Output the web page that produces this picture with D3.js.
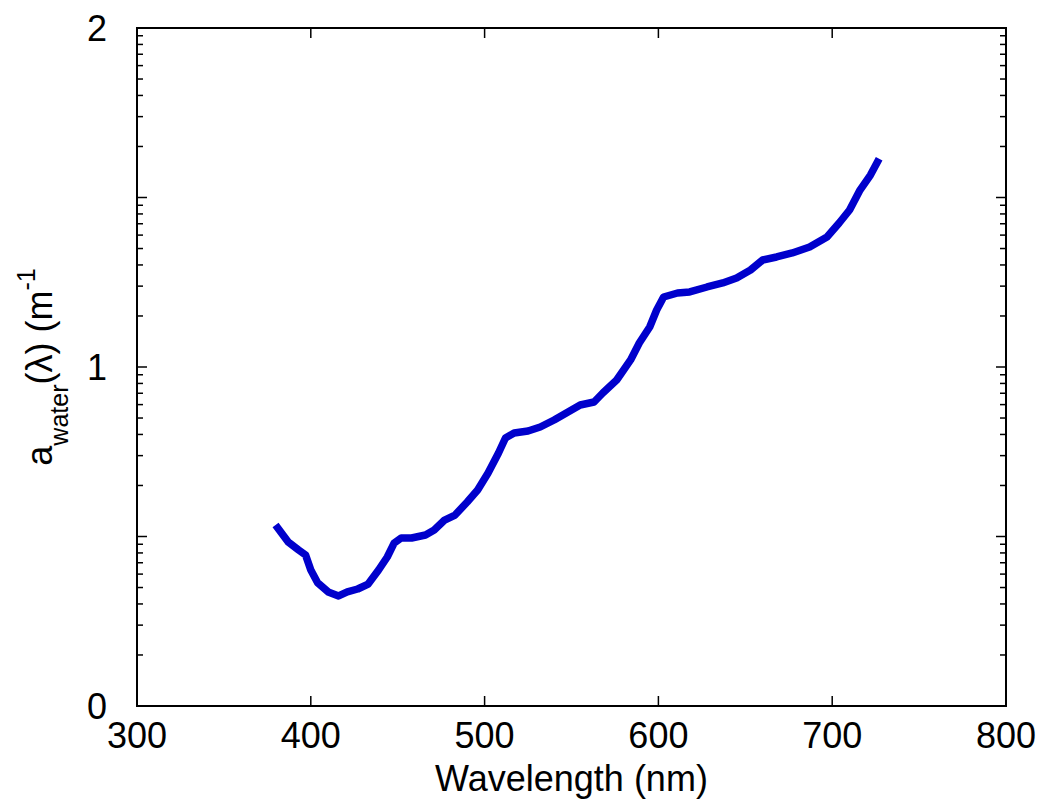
<!DOCTYPE html>
<html>
<head>
<meta charset="utf-8">
<script src="https://cdn.jsdelivr.net/npm/d3@7"></script>
<style>
  body { margin: 0; background: #fff; }
  text { font-family: "Liberation Sans", Arial, sans-serif; fill: #000; }
</style>
</head>
<body>
<div id="svgDiv"></div>
<script>
var w = 1046;
var h = 804;

// absorption of pure water
var wavelength = [381, 387, 393, 397, 400, 404, 410, 416, 421, 427, 433, 439, 444, 448, 452,
  458, 466, 471, 477, 483, 490, 496, 502, 508, 512, 517, 525, 532, 540, 548, 555, 563,
  568, 576, 584, 589, 595, 599, 603, 611, 618, 628, 637, 645, 653, 660, 668, 677, 687,
  697, 704, 710, 716, 722, 726];
var absorption = [0.01122, 0.00928, 0.00833, 0.00778, 0.00634, 0.00532, 0.00471, 0.00446,
  0.00471, 0.00490, 0.00524, 0.00634, 0.00757, 0.00916, 0.00980, 0.00980, 0.01020, 0.01092,
  0.01251, 0.01339, 0.01598, 0.01880, 0.02370, 0.03109, 0.03813, 0.04080, 0.04193, 0.04426,
  0.04868, 0.05427, 0.05967, 0.06215, 0.07025, 0.08381, 0.1100, 0.1385, 0.1722, 0.2169,
  0.2588, 0.2733, 0.2771, 0.2965, 0.3131, 0.3350, 0.3735, 0.4279, 0.4457, 0.4707, 0.5105,
  0.5848, 0.7072, 0.8439, 1.107, 1.357, 1.620];

var xTicks = [300, 400, 500, 600, 700, 800];
var yTickValues = [0.001, 0.1, 10];
var yTickLabels = ["0", "1", "2"];

var margin = {left: 137, right: 40, top: 28, bottom: 98};

var svg = d3.select("#svgDiv")
	.append("svg")
	.attr("width", w)
	.attr("height", h);

var x = d3.scaleLinear()
	.domain([300, 800])
	.range([margin.left, w - margin.right]);

var y = d3.scaleLog()
	.domain([0.001, 10])
	.range([h - margin.bottom, margin.top]);

// log ticks: decades long, 2..9 short
var majorY = [], minorY = [];
for (var e = -3; e < 1; e++) {
	majorY.push(Math.pow(10, e));
	for (var m = 2; m <= 9; m++) minorY.push(m * Math.pow(10, e));
}
majorY.push(10);

var g = svg.append("g");

// curve
var data = wavelength.map(function (d, i) { return {wl: d, a: absorption[i]}; });
var line = d3.line()
	.x(function (d) { return x(d.wl); })
	.y(function (d) { return y(d.a); });

g.append("path")
	.datum(data)
	.attr("d", line)
	.style("fill", "none")
	.style("stroke", "#0000cc")
	.style("stroke-width", 7.5)
	.style("stroke-linejoin", "round")
	.style("stroke-linecap", "square");

// ticks
var tickStyle = function (sel) {
	sel.style("stroke", "#000").style("stroke-width", 1.5);
};

var x0 = x.range()[0], x1 = x.range()[1];
var y0 = y.range()[0], y1 = y.range()[1];

xTicks.forEach(function (t) {
	g.append("line").attr("x1", x(t)).attr("x2", x(t)).attr("y1", y0).attr("y2", y0 - 10).call(tickStyle);
	g.append("line").attr("x1", x(t)).attr("x2", x(t)).attr("y1", y1).attr("y2", y1 + 10).call(tickStyle);
	g.append("text")
		.attr("x", x(t))
		.attr("y", 748)
		.attr("text-anchor", "middle")
		.style("font-size", "36px")
		.text(t);
});

majorY.forEach(function (t) {
	g.append("line").attr("x1", x0).attr("x2", x0 + 10).attr("y1", y(t)).attr("y2", y(t)).call(tickStyle);
	g.append("line").attr("x1", x1).attr("x2", x1 - 10).attr("y1", y(t)).attr("y2", y(t)).call(tickStyle);
});
minorY.forEach(function (t) {
	g.append("line").attr("x1", x0).attr("x2", x0 + 6).attr("y1", y(t)).attr("y2", y(t)).call(tickStyle);
	g.append("line").attr("x1", x1).attr("x2", x1 - 6).attr("y1", y(t)).attr("y2", y(t)).call(tickStyle);
});

yTickValues.forEach(function (t, i) {
	g.append("text")
		.attr("x", 107)
		.attr("y", y(t))
		.attr("dy", "0.36em")
		.attr("text-anchor", "end")
		.style("font-size", "36px")
		.text(yTickLabels[i]);
});

// box
g.append("rect")
	.attr("x", x0)
	.attr("y", y1)
	.attr("width", x1 - x0)
	.attr("height", y0 - y1)
	.style("fill", "none")
	.style("stroke", "#000")
	.style("stroke-width", 2);

// axis labels
svg.append("text")
	.attr("x", (x0 + x1) / 2)
	.attr("y", 791)
	.attr("text-anchor", "middle")
	.style("font-size", "36px")
	.text("Wavelength (nm)");

var yl = svg.append("text")
	.attr("transform", "translate(52," + ((y0 + y1) / 2) + ") rotate(-90)")
	.attr("text-anchor", "middle")
	.style("font-size", "36px");
yl.append("tspan").text("a");
yl.append("tspan").attr("dy", 16).style("font-size", "25px").text("water");
yl.append("tspan").attr("dy", -16).text("(\u03bb) (m");
yl.append("tspan").attr("dy", -17).style("font-size", "25px").text("-1");
</script>
</body>
</html>
